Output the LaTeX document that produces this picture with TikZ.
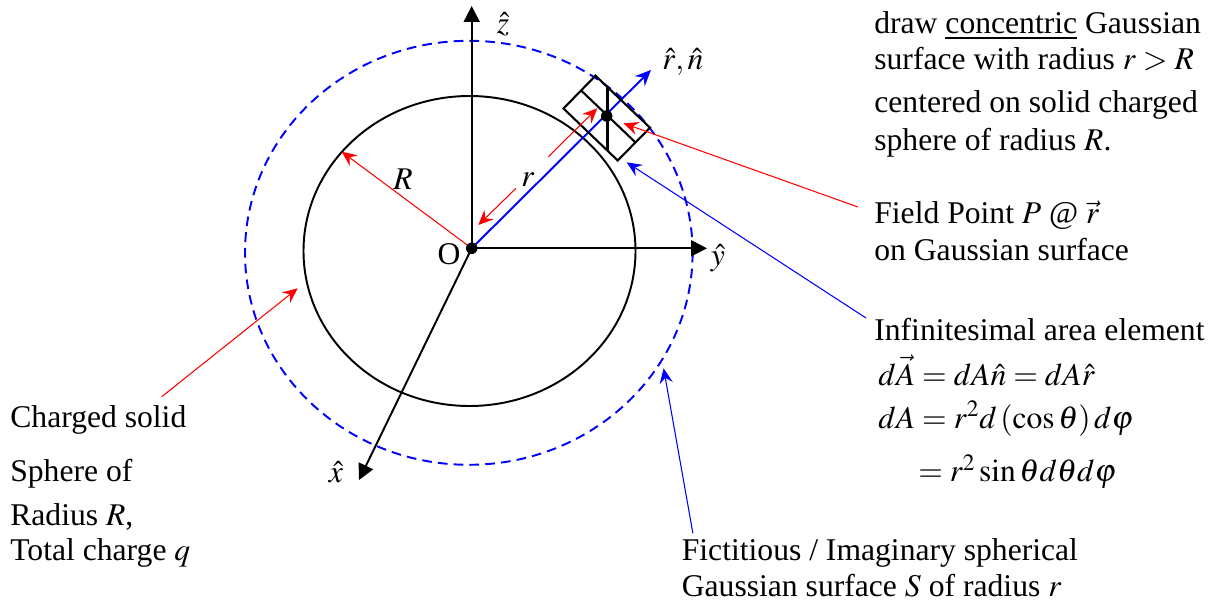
\documentclass[tikz,border=0pt]{standalone}
\usepackage{mathptmx}
\usepackage[no-math]{fontspec}
\setmainfont{Liberation Serif}
\usetikzlibrary{arrows.meta,calc}
\definecolor{GaussRed}{RGB}{255,0,0}
\definecolor{GaussBlue}{RGB}{0,0,255}
\tikzset{
  gauss/axis/.style={-{Triangle[length=9pt,width=9pt]}, line width=1.1pt, draw=black},
  gauss/radial/.style={-{Stealth[length=9pt,width=8pt,inset=3pt]}, line width=1.1pt, draw=GaussBlue},
  gauss/redarrow/.style={-{Stealth[length=8.5pt,width=7.5pt,inset=3pt]}, line width=0.6pt, draw=GaussRed},
  gauss/bluearrow/.style={-{Stealth[length=8.5pt,width=7.5pt,inset=3pt]}, line width=0.6pt, draw=GaussBlue},
  gauss/sphere/.style={line width=1.1pt, draw=black},
  gauss/surface/.style={line width=1.1pt, draw=GaussBlue, dash pattern=on 5.5pt off 3.5pt},
  gauss/patch/.style={line width=1.2pt, draw=black, line join=miter},
  gauss/dot/.style={circle, fill=black, inner sep=0pt, minimum size=0.23cm},
  gauss/text/.style={anchor=base west, inner sep=0pt, font=\fontsize{18}{22}\selectfont},
  gauss/label/.style={inner sep=0pt, font=\fontsize{18}{22}\selectfont}
}

\begin{document}
\begin{tikzpicture}[x=0.02cm,y=-0.02cm]
  \useasboundingbox (0,0) rectangle (1215,605);
  % key points
  \coordinate (O) at (471.7,248.3);
  \coordinate (P) at (606.7,116);
  \coordinate (zTip) at (471.7,6);
  \coordinate (yTip) at (707,248.3);
  \coordinate (xTip) at (359,480);
  \coordinate (rTip) at (651,70);
  % sphere and Gaussian surface
  \draw[gauss/surface] (468.8,252.8) ellipse [x radius=223.8, y radius=212];
  \draw[gauss/sphere] (469.5,251) ellipse [x radius=166, y radius=155];
  % axes
  \draw[gauss/axis] (O) -- (zTip);
  \draw[gauss/axis] (O) -- (yTip);
  \draw[gauss/axis] (O) -- (xTip);
  \draw[gauss/radial] (O) -- (rTip);
  \node[gauss/label] (zLabel) at (503,24) {$\hat{z}$};
  \node[gauss/label] (yLabel) at (718,258) {$\hat{y}$};
  \node[gauss/label] (xLabel) at (336,472) {$\hat{x}$};
  \node[gauss/label] (rnLabel) at (683,62) {$\hat{r},\hat{n}$};
  \node[gauss/label] (oLabel) at (449,254) {O};
  % area element patch
  \coordinate (bA) at (563.5,108.5);
  \coordinate (bB) at (595.5,75.7);
  \coordinate (bC) at (650,127.7);
  \coordinate (bD) at (617.7,160.5);
  \draw[gauss/patch] (bA) -- (bB) -- (bC) -- (bD) -- cycle;
  \draw[gauss/patch] ($(bA)!0.55!(bB)$) -- ($(bD)!0.55!(bC)$);
  \draw[gauss/patch] (607.5,86.2) -- (607.5,150.5);
  % radii
  \coordinate (RTip) at (341.7,151.7);
  \draw[gauss/redarrow] (O) -- (RTip);
  \node[gauss/label] (RLabel) at (403,179) {$R$};
  \coordinate (rInTail) at (516,188.3);
  \coordinate (rInHead) at (478.3,225);
  \coordinate (rOutTail) at (548.3,156.7);
  \coordinate (rOutHead) at (597.3,108.3);
  \draw[gauss/redarrow] (rInTail) -- (rInHead);
  \draw[gauss/redarrow] (rOutTail) -- (rOutHead);
  \node[gauss/label] (rLabel) at (528,180) {$r$};
  % dots
  \node[gauss/dot] (oDot) at (O) {};
  \node[gauss/dot] (pDot) at (P) {};
  % pointers
  \coordinate (csTail) at (161.7,396.7);
  \coordinate (csHead) at (297.7,288.3);
  \coordinate (fpTail) at (858,207);
  \coordinate (fpHead) at (623.5,123.3);
  \coordinate (daTail) at (866,318);
  \coordinate (daHead) at (626.7,162.3);
  \coordinate (gsTail) at (692.9,533.3);
  \coordinate (gsHead) at (663.6,368.3);
  \draw[gauss/redarrow] (csTail) -- (csHead);
  \draw[gauss/redarrow] (fpTail) -- (fpHead);
  \draw[gauss/bluearrow] (daTail) -- (daHead);
  \draw[gauss/bluearrow] (gsTail) -- (gsHead);
  % left text
  \node[gauss/text] (cs1) at (10,427.3) {Charged solid};
  \node[gauss/text] (cs2) at (10,481.7) {Sphere of};
  \node[gauss/text] (cs3) at (10,525) {Radius $R$,};
  \node[gauss/text] (cs4) at (10,560) {Total charge $q$};
  % right text
  \node[gauss/text] (gd1) at (874,33.3) {draw \underline{concentric} Gaussian};
  \node[gauss/text] (gd2) at (874,70) {surface with radius $r > R$};
  \node[gauss/text] (gd3) at (874,112.7) {centered on solid charged};
  \node[gauss/text] (gd4) at (874,150) {sphere of radius $R$.};
  \node[gauss/text] (fp1) at (874,223.3) {Field Point $P$ @ $\vec{r}$};
  \node[gauss/text] (fp2) at (874,260.7) {on Gaussian surface};
  \node[gauss/text] (da1) at (874,340) {Infinitesimal area element};
  \node[gauss/text] (da2) at (878,385) {$d\vec{A} = dA\hat{n} = dA\hat{r}$};
  \node[gauss/text] (da3) at (878,428.3) {$dA = r^2 d\left(\cos\theta\right) d\varphi$};
  \node[gauss/text] (da4) at (918,481.7) {$= r^2 \sin\theta d\theta d\varphi$};
  \node[gauss/text] (gs1) at (681.5,560) {Fictitious / Imaginary spherical};
  \node[gauss/text] (gs2) at (681.5,596.7) {Gaussian surface $S$ of radius $r$};
\end{tikzpicture}
\end{document}
